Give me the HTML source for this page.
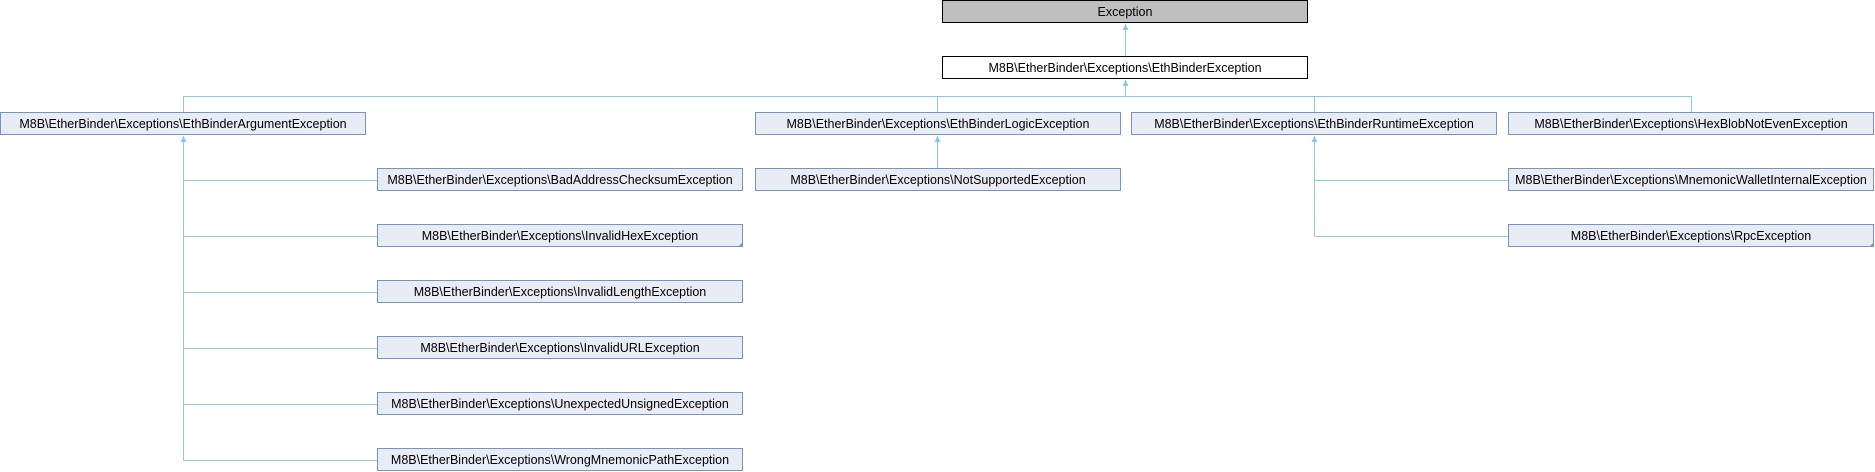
<!DOCTYPE html>
<html><head><meta charset="utf-8"><style>
html,body{margin:0;padding:0;background:#fff;}
svg{display:block}
text{font-family:"Liberation Sans",sans-serif;font-size:12.5px;fill:#000}
</style></head><body>
<svg width="1875" height="472" viewBox="0 0 1875 472" xmlns="http://www.w3.org/2000/svg">
<g stroke="#8ec5e6" stroke-width="1" fill="none" shape-rendering="crispEdges">
<line x1="1125.5" y1="24" x2="1125.5" y2="56"/>
<line x1="1125.5" y1="80" x2="1125.5" y2="96.5"/>
<line x1="183.5" y1="96.5" x2="1691.5" y2="96.5"/>
<line x1="183.5" y1="96.5" x2="183.5" y2="112"/>
<line x1="937.5" y1="96.5" x2="937.5" y2="112"/>
<line x1="1314.5" y1="96.5" x2="1314.5" y2="112"/>
<line x1="1691.5" y1="96.5" x2="1691.5" y2="112"/>
<line x1="183.5" y1="136" x2="183.5" y2="460.5"/>
<line x1="183.5" y1="180.5" x2="377" y2="180.5"/>
<line x1="183.5" y1="236.5" x2="377" y2="236.5"/>
<line x1="183.5" y1="292.5" x2="377" y2="292.5"/>
<line x1="183.5" y1="348.5" x2="377" y2="348.5"/>
<line x1="183.5" y1="404.5" x2="377" y2="404.5"/>
<line x1="183.5" y1="460.5" x2="377" y2="460.5"/>
<line x1="937.5" y1="136" x2="937.5" y2="168"/>
<line x1="1314.5" y1="136" x2="1314.5" y2="236.5"/>
<line x1="1314.5" y1="180.5" x2="1508" y2="180.5"/>
<line x1="1314.5" y1="236.5" x2="1508" y2="236.5"/>
</g>
<g fill="#8ec5e6">
<polygon points="1125.5,24 1122.5,30 1128.5,30"/>
<polygon points="1125.5,80 1122.5,86 1128.5,86"/>
<polygon points="183.5,136 180.5,142 186.5,142"/>
<polygon points="937.5,136 934.5,142 940.5,142"/>
<polygon points="1314.5,136 1311.5,142 1317.5,142"/>
</g>
<g shape-rendering="crispEdges">
<rect x="942.5" y="0.5" width="365" height="22" fill="#bfbfbf" stroke="#000"/>
<rect x="942.5" y="56.5" width="365" height="22" fill="#fff" stroke="#000"/>
<g fill="#e8ecf5" stroke="#7b8fc8">
<rect x="0.5" y="112.5" width="365" height="22"/>
<rect x="755.5" y="112.5" width="365" height="22"/>
<rect x="1131.5" y="112.5" width="365" height="22"/>
<rect x="1508.5" y="112.5" width="365" height="22"/>
<rect x="755.5" y="168.5" width="365" height="22"/>
<rect x="1508.5" y="168.5" width="365" height="22"/>
<rect x="1508.5" y="224.5" width="365" height="22"/>
<rect x="377.5" y="168.5" width="365" height="22"/>
<rect x="377.5" y="224.5" width="365" height="22"/>
<rect x="377.5" y="280.5" width="365" height="22"/>
<rect x="377.5" y="336.5" width="365" height="22"/>
<rect x="377.5" y="392.5" width="365" height="22"/>
<rect x="377.5" y="448.5" width="365" height="22"/>
</g>
</g>
<g fill="#7b8fc8">
<polygon points="743,242 743,247 738,247"/>
<polygon points="1874,242 1874,247 1869,247"/>
</g>
<g text-anchor="middle">
<text x="1125" y="16">Exception</text>
<text x="1125" y="72">M8B\EtherBinder\Exceptions\EthBinderException</text>
<text x="183" y="128">M8B\EtherBinder\Exceptions\EthBinderArgumentException</text>
<text x="938" y="128">M8B\EtherBinder\Exceptions\EthBinderLogicException</text>
<text x="1314" y="128">M8B\EtherBinder\Exceptions\EthBinderRuntimeException</text>
<text x="1691" y="128">M8B\EtherBinder\Exceptions\HexBlobNotEvenException</text>
<text x="938" y="184">M8B\EtherBinder\Exceptions\NotSupportedException</text>
<text x="1691" y="184">M8B\EtherBinder\Exceptions\MnemonicWalletInternalException</text>
<text x="1691" y="240">M8B\EtherBinder\Exceptions\RpcException</text>
<text x="560" y="184">M8B\EtherBinder\Exceptions\BadAddressChecksumException</text>
<text x="560" y="240">M8B\EtherBinder\Exceptions\InvalidHexException</text>
<text x="560" y="296">M8B\EtherBinder\Exceptions\InvalidLengthException</text>
<text x="560" y="352">M8B\EtherBinder\Exceptions\InvalidURLException</text>
<text x="560" y="408">M8B\EtherBinder\Exceptions\UnexpectedUnsignedException</text>
<text x="560" y="464">M8B\EtherBinder\Exceptions\WrongMnemonicPathException</text>
</g>
</svg>
</body></html>
